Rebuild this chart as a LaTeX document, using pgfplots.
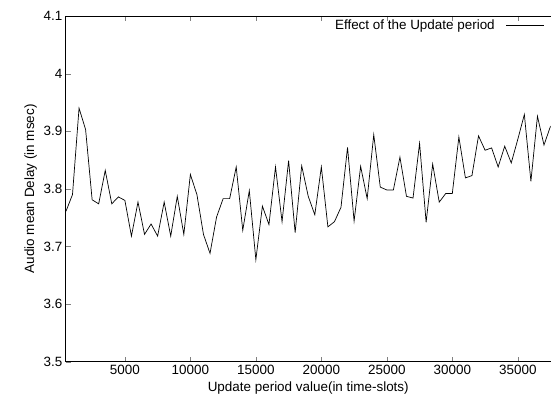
\documentclass[border=0pt]{standalone}
\usepackage{fontspec}
\setmainfont{Liberation Sans}
\usepackage{pgfplots}
\pgfplotsset{compat=1.18}
\begin{document}
\begin{tikzpicture}
\begin{axis}[
    scale only axis,
    width=485bp,
    height=346bp,
    xmin=500, xmax=37500,
    ymin=3.5, ymax=4.1,
    axis x line*=box,
    axis y line*=left,
    axis line style={-, line width=0.9bp},
    tick align=inside,
    major tick length=5bp,
    xtick={5000,10000,15000,20000,25000,30000,35000},
    ytick={3.5,3.6,3.7,3.8,3.9,4.0,4.1},
    scaled x ticks=false,
    /pgf/number format/1000 sep={},
    /pgf/number format/assume math mode=true,
    tick label style={font=\fontsize{13.5}{16}\selectfont},
    label style={font=\fontsize{13.5}{16}\selectfont},
    xlabel={Update period value(in time-slots)},
    ylabel={Audio mean Delay (in msec)},
    legend plot pos=right,
    legend image code/.code={\path (0bp,0bp); \draw[#1] (9bp,0bp) -- (47bp,0bp);},
    legend style={draw=none, fill=none, at={(1,1)}, anchor=north east,
        font=\fontsize{13.5}{16}\selectfont, xshift=-3bp},
]
\addplot[black, line width=0.7bp, mark=none] coordinates {
    (500,3.761) (1000,3.790) (1500,3.940) (2000,3.903) (2500,3.781)
    (3000,3.774) (3500,3.832) (4000,3.774) (4500,3.786) (5000,3.780)
    (5500,3.718) (6000,3.777) (6500,3.721) (7000,3.739) (7500,3.718)
    (8000,3.777) (8500,3.718) (9000,3.787) (9500,3.721) (10000,3.825)
    (10500,3.790) (11000,3.721) (11500,3.688) (12000,3.751) (12500,3.783)
    (13000,3.783) (13500,3.838) (14000,3.728) (14500,3.797) (15000,3.677)
    (15500,3.770) (16000,3.738) (16500,3.838) (17000,3.743) (17500,3.849)
    (18000,3.724) (18500,3.840) (19000,3.787) (19500,3.755) (20000,3.838)
    (20500,3.734) (21000,3.743) (21500,3.768) (22000,3.872) (22500,3.744)
    (23000,3.839) (23500,3.783) (24000,3.894) (24500,3.803) (25000,3.798)
    (25500,3.798) (26000,3.855) (26500,3.787) (27000,3.784) (27500,3.879)
    (28000,3.742) (28500,3.843) (29000,3.777) (29500,3.792) (30000,3.792)
    (30500,3.890) (31000,3.819) (31500,3.823) (32000,3.892) (32500,3.867)
    (33000,3.871) (33500,3.838) (34000,3.874) (34500,3.845) (35000,3.886)
    (35500,3.929) (36000,3.813) (36500,3.926) (37000,3.876) (37500,3.909)
};
\addlegendentry{Effect of the Update period}
\end{axis}
\path (current axis.south west) +(-66bp,-41bp) (current axis.north east) +(0bp,16bp);
\end{tikzpicture}
\end{document}
